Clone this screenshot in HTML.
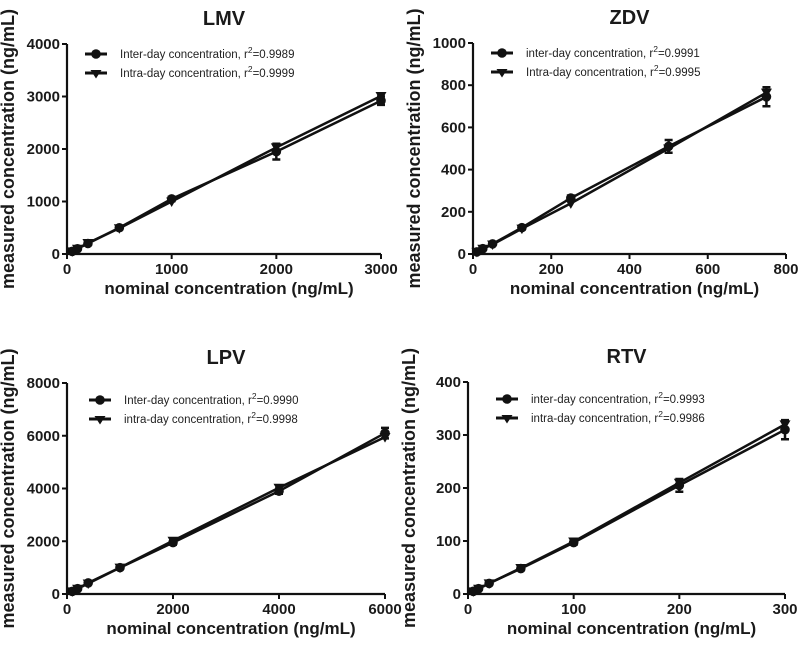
<!DOCTYPE html>
<html><head><meta charset="utf-8"><style>
body{margin:0;background:#fff;}
svg{display:block;font-family:"Liberation Sans",Arial,sans-serif;}
.tick{font-size:15px;font-weight:bold;fill:#1a1a1a;}
.ttl{font-size:20px;font-weight:bold;fill:#1a1a1a;}
.axl{font-size:17px;font-weight:bold;fill:#1a1a1a;}
.yaxl{font-size:18px;font-weight:bold;fill:#1a1a1a;}
.leg{font-size:11.5px;fill:#222;}
</style></head><body>
<svg id="chart" width="800" height="646" viewBox="0 0 800 646"></svg>
<script>
// LMV
const lmvNominal=[50,100,200,500,1000,2000,3000];
const lmvInter=[50,100,200,500,1050,1950,2920];
const lmvIntra=[50,100,210,490,1000,2030,3010];
const lmvErr=[10,20,20,30,40,150,80];
const lmvXTicks=[0,1000,2000,3000];
const lmvYTicks=[0,1000,2000,3000,4000];
// ZDV
const zdvNominal=[10,25,50,125,250,500,750];
const zdvInter=[10,25,48,125,265,510,745];
const zdvIntra=[10,25,45,120,240,500,765];
const zdvErr=[3,5,5,8,12,30,45];
const zdvXTicks=[0,200,400,600,800];
const zdvYTicks=[0,200,400,600,800,1000];
// LPV
const lpvNominal=[100,200,400,1000,2000,4000,6000];
const lpvInter=[100,200,420,1000,1950,3900,6100];
const lpvIntra=[100,200,400,1000,2020,4030,5950];
const lpvErr=[20,30,40,50,80,100,200];
const lpvXTicks=[0,2000,4000,6000];
const lpvYTicks=[0,2000,4000,6000,8000];
// RTV
const rtvNominal=[5,10,20,50,100,200,300];
const rtvInter=[5,10,20,48,97,205,310];
const rtvIntra=[5,10,20,49,99,210,320];
const rtvErr=[1,2,2,3,4,12,18];
const rtvXTicks=[0,100,200,300];
const rtvYTicks=[0,100,200,300,400];

const NS="http://www.w3.org/2000/svg";
const svg=document.getElementById('chart');
function mk(tag,attrs,parent,text){const e=document.createElementNS(NS,tag);for(const k in attrs)e.setAttribute(k,attrs[k]);if(text!==undefined)e.textContent=text;(parent||svg).appendChild(e);return e;}

function panel(cfg){
  const g=mk('g',{});
  
  
  const xs=v=>cfg.x0+(v-cfg.xt[0])/(cfg.xt[cfg.xt.length-1]-cfg.xt[0])*(cfg.x1-cfg.x0);
  const ys=v=>cfg.y0-(v-cfg.yt[0])/(cfg.yt[cfg.yt.length-1]-cfg.yt[0])*(cfg.y0-cfg.y1);
  const t=mk('text',{x:(cfg.x0+cfg.x1)/2,y:cfg.y1-19,'text-anchor':'middle',class:'ttl'},g,cfg.title);
  
  
  const ax=mk('path',{d:`M${cfg.x0},${cfg.y1}V${cfg.y0}H${cfg.x1}`,stroke:'#111',fill:'none','stroke-width':2.2},g);
  
  
  cfg.xt.forEach(v=>{const x=xs(v);mk('line',{x1:x,x2:x,y1:cfg.y0,y2:cfg.y0+5,stroke:'#111','stroke-width':2},g);
    const l=mk('text',{x:x,y:cfg.y0+20,'text-anchor':'middle',class:'tick'},g,v);
    
    });
  cfg.yt.forEach(v=>{const y=ys(v);mk('line',{x1:cfg.x0-5,x2:cfg.x0,y1:y,y2:y,stroke:'#111','stroke-width':2},g);
    const l=mk('text',{x:cfg.x0-7,y:y+5,'text-anchor':'end',class:'tick'},g,v);
    
    });
  const xl=mk('text',{x:(cfg.x0+cfg.x1)/2+5,y:cfg.y0+40,'text-anchor':'middle',class:'axl'},g,'nominal concentration (ng/mL)');
  
  
  const yc=(cfg.y0+cfg.y1)/2;
  const yl=mk('text',{x:cfg.x0-53,y:yc,'text-anchor':'middle',class:'yaxl',transform:`rotate(-90 ${cfg.x0-53} ${yc})`},g,'measured concentration (ng/mL)');
  
  
  [[cfg.inter,'circle'],[cfg.intra,'tri']].forEach(([vals,shape])=>{
    const pts=cfg.nom.map((n,i)=>xs(n)+','+ys(vals[i])).join(' ');
    const pl=mk('polyline',{points:pts,fill:'none',stroke:'#111','stroke-width':2.5},g);
    
    
    cfg.nom.forEach((n,i)=>{
      const x=xs(n),y=ys(vals[i]);
      if(shape==='circle'){
        const eb=mk('path',{d:`M${x-4},${ys(vals[i]+cfg.err[i])}H${x+4}M${x},${ys(vals[i]+cfg.err[i])}V${ys(vals[i]-cfg.err[i])}M${x-4},${ys(vals[i]-cfg.err[i])}H${x+4}`,stroke:'#111','stroke-width':2.5,fill:'none'},g);
        
        
        const c=mk('circle',{cx:x,cy:y,r:4.8,fill:'#111'},g);
        
        
      } else {
        const p=mk('path',{d:`M${x-5.5},${y-4}H${x+5.5}L${x},${y+5.5}Z`,fill:'#111'},g);
        
        
      }
    });
  });
  const lx=cfg.x0+cfg.lgx, ly=cfg.y1+cfg.lgy;
  cfg.leg.forEach((txt,i)=>{
    const y=ly+i*19;
    const lg=mk('g',{},g);
    
    
    mk('line',{x1:lx,x2:lx+22,y1:y,y2:y,stroke:'#111','stroke-width':3},lg);
    if(i===0)mk('circle',{cx:lx+11,cy:y,r:4.8,fill:'#111'},lg);
    else mk('path',{d:`M${lx+5.5},${y-3}H${lx+16.5}L${lx+11},${y+5.5}Z`,fill:'#111'},lg);
    const tx=mk('text',{x:lx+35,y:y+4,class:'leg'},lg);
    tx.textContent=txt[0]+', r';
    mk('tspan',{dy:-5,'font-size':8.5},tx,'2');
    mk('tspan',{dy:5},tx,'='+txt[1]);
  });
}
panel({key:'lmv',title:'LMV',x0:67,x1:381,y0:254,y1:44,xt:lmvXTicks,yt:lmvYTicks,nom:lmvNominal,inter:lmvInter,intra:lmvIntra,err:lmvErr,lgx:18,lgy:10,leg:[['Inter-day concentration','0.9989'],['Intra-day concentration','0.9999']]});
panel({key:'zdv',title:'ZDV',x0:473,x1:786,y0:254,y1:43,xt:zdvXTicks,yt:zdvYTicks,nom:zdvNominal,inter:zdvInter,intra:zdvIntra,err:zdvErr,lgx:18,lgy:10,leg:[['inter-day concentration','0.9991'],['Intra-day concentration','0.9995']]});
panel({key:'lpv',title:'LPV',x0:67,x1:385,y0:594,y1:383,xt:lpvXTicks,yt:lpvYTicks,nom:lpvNominal,inter:lpvInter,intra:lpvIntra,err:lpvErr,lgx:22,lgy:17,leg:[['Inter-day concentration','0.9990'],['intra-day concentration','0.9998']]});
panel({key:'rtv',title:'RTV',x0:468,x1:785,y0:594,y1:382,xt:rtvXTicks,yt:rtvYTicks,nom:rtvNominal,inter:rtvInter,intra:rtvIntra,err:rtvErr,lgx:28,lgy:17,leg:[['inter-day concentration','0.9993'],['intra-day concentration','0.9986']]});
</script>
</body></html>
